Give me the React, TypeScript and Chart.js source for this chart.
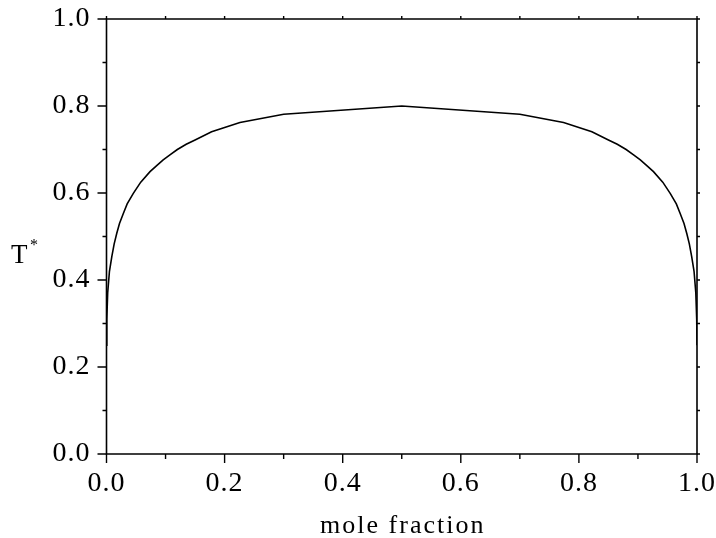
import React, { useEffect, useRef } from "react";
import { Chart, registerables } from "chart.js";

Chart.register(...registerables);

const moleFraction = [
  0, 0.0005, 0.002, 0.005, 0.009, 0.013, 0.0173, 0.022, 0.0285, 0.035, 0.0454, 0.058, 0.0737,
  0.085, 0.096, 0.108, 0.12, 0.135, 0.15, 0.178, 0.226, 0.3,
  0.5,
  0.7, 0.774, 0.822, 0.85, 0.865, 0.88, 0.892, 0.904, 0.915, 0.9263, 0.942, 0.9546, 0.965,
  0.9715, 0.978, 0.9827, 0.987, 0.991, 0.995, 0.998, 0.9995, 1,
];
const tStar = [
  0.25, 0.31, 0.37, 0.42, 0.4536, 0.483, 0.507, 0.53, 0.553, 0.575, 0.599, 0.625, 0.649,
  0.663, 0.676, 0.688, 0.7, 0.712, 0.722, 0.741, 0.762, 0.781,
  0.8,
  0.781, 0.762, 0.741, 0.722, 0.712, 0.7, 0.688, 0.676, 0.663, 0.649, 0.625, 0.599, 0.575,
  0.553, 0.53, 0.507, 0.483, 0.4536, 0.42, 0.37, 0.31, 0.25,
];
const xTicks = [0, 0.2, 0.4, 0.6, 0.8, 1.0];
const yTicks = [0, 0.2, 0.4, 0.6, 0.8, 1.0];
const minorTicks = [0.1, 0.3, 0.5, 0.7, 0.9];
const xTitle = "mole fraction";
const yTitle = "T";
const yTitleSup = "*";

const FONT = "'Liberation Serif', 'Times New Roman', serif";

const spacingPlugin = {
  id: "spacing",
  beforeDraw(chart: any) {
    (chart.ctx as any).letterSpacing = "1px";
  },
};

const framePlugin = {
  id: "frame",
  afterDraw(chart: any) {
    const ctx = chart.ctx as CanvasRenderingContext2D;
    const { left, right, top, bottom } = chart.chartArea;
    const xs = chart.scales.x;
    const ys = chart.scales.y;
    ctx.save();
    ctx.strokeStyle = "#000";
    ctx.lineWidth = 1.6;
    ctx.beginPath();
    ctx.rect(left, top, right - left, bottom - top);
    ctx.stroke();
    ctx.lineWidth = 1.4;
    ctx.beginPath();
    for (const v of yTicks) {
      const p = ys.getPixelForValue(v);
      ctx.moveTo(left, p);
      ctx.lineTo(left - 9, p);
      ctx.moveTo(right, p);
      ctx.lineTo(right + 3, p);
    }
    for (const v of xTicks) {
      const p = xs.getPixelForValue(v);
      ctx.moveTo(p, bottom);
      ctx.lineTo(p, bottom + 9);
      ctx.moveTo(p, top);
      ctx.lineTo(p, top - 3);
    }
    for (const v of minorTicks) {
      const py = ys.getPixelForValue(v);
      ctx.moveTo(left, py);
      ctx.lineTo(left - 4, py);
      ctx.moveTo(right, py);
      ctx.lineTo(right + 3, py);
      const px = xs.getPixelForValue(v);
      ctx.moveTo(px, bottom);
      ctx.lineTo(px, bottom + 5);
      ctx.moveTo(px, top);
      ctx.lineTo(px, top - 3);
    }
    ctx.stroke();

    ctx.fillStyle = "#000";
    ctx.font = `26px ${FONT}`;
    (ctx as any).letterSpacing = "2px";
    ctx.textAlign = "center";
    ctx.textBaseline = "alphabetic";
    ctx.fillText(xTitle, (left + right) / 2 + 1, 533);
    (ctx as any).letterSpacing = "0px";
    ctx.textAlign = "left";
    ctx.font = `27px ${FONT}`;
    ctx.fillText(yTitle, 11, 263);
    ctx.font = `16px ${FONT}`;
    ctx.fillText(yTitleSup, 30, 250);
    ctx.restore();
    (ctx as any).letterSpacing = "0px";
  },
};

const noPad = (s: any) => {
  s.paddingTop = 0;
  s.paddingBottom = 0;
  s.paddingLeft = 0;
  s.paddingRight = 0;
};

export default function App() {
  const ref = useRef<HTMLCanvasElement>(null);
  useEffect(() => {
    if (!ref.current) return;
    const chart = new Chart(ref.current, {
      type: "line",
      data: {
        datasets: [
          {
            data: moleFraction.map((x, i) => ({ x, y: tStar[i] })),
            borderColor: "#000",
            borderWidth: 1.6,
            pointRadius: 0,
            tension: 0,
            fill: false,
          },
        ],
      },
      options: {
        animation: false,
        responsive: false,
        devicePixelRatio: 1,
        layout: { padding: { top: 19, right: 19, left: 0, bottom: 0 } },
        plugins: { legend: { display: false }, tooltip: { enabled: false } },
        scales: {
          x: {
            type: "linear",
            min: 0,
            max: 1,
            afterFit: (s: any) => {
              s.height = 84;
              noPad(s);
            },
            afterBuildTicks: (s: any) => {
              s.ticks = xTicks.map((v) => ({ value: v }));
            },
            grid: { display: false, drawTicks: false },
            border: { display: false },
            ticks: {
              color: "#000",
              font: { family: FONT, size: 28 },
              padding: 13,
              maxRotation: 0,
              callback: (v: any) => Number(v).toFixed(1),
            },
          },
          y: {
            type: "linear",
            min: 0,
            max: 1,
            afterFit: (s: any) => {
              s.width = 106.5;
              noPad(s);
            },
            afterBuildTicks: (s: any) => {
              s.ticks = yTicks.map((v) => ({ value: v }));
            },
            grid: { display: false, drawTicks: false },
            border: { display: false },
            ticks: {
              color: "#000",
              font: { family: FONT, size: 28 },
              padding: 16,
              callback: (v: any) => Number(v).toFixed(1),
            },
          },
        },
      },
      plugins: [spacingPlugin, framePlugin],
    });
    return () => chart.destroy();
  }, []);
  return (
    <div style={{ position: "fixed", left: 0, top: 0, width: 716, height: 538, background: "#fff" }}>
      <canvas ref={ref} width={716} height={538} />
    </div>
  );
}
